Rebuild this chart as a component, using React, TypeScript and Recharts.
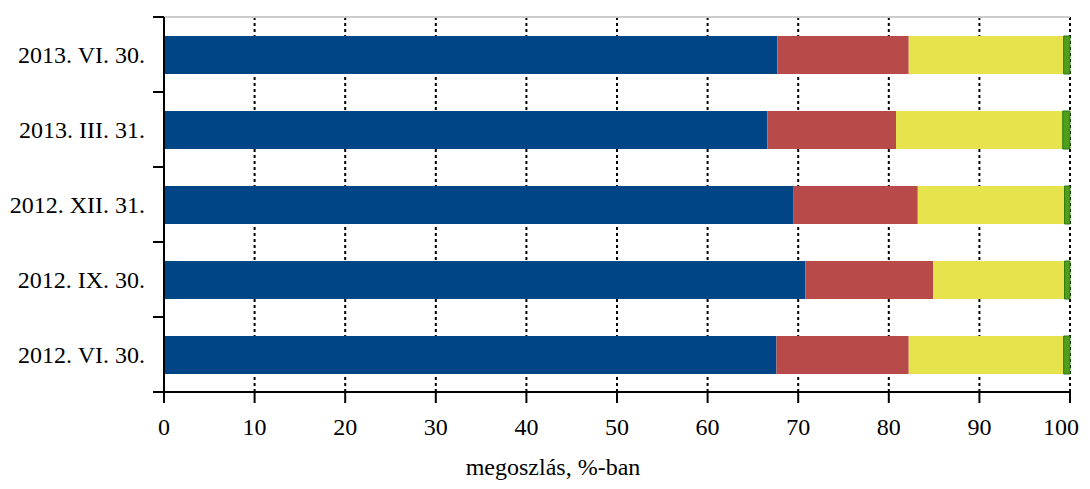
import {
  BarChart,
  Bar,
  XAxis,
  YAxis,
  CartesianGrid,
  ReferenceLine,
} from "recharts";

// időpontok (felülről lefelé)
const dates = [
  "2013. VI. 30.",
  "2013. III. 31.",
  "2012. XII. 31.",
  "2012. IX. 30.",
  "2012. VI. 30.",
];

// megoszlás, %-ban
const blueShare = [67.7, 66.6, 69.5, 70.8, 67.6];
const redShare = [14.5, 14.2, 13.7, 14.1, 14.6];
const yellowShare = [17.1, 18.4, 16.2, 14.5, 17.1];
const greenShare = [0.7, 0.8, 0.6, 0.6, 0.7];

const xTicks = [0, 10, 20, 30, 40, 50, 60, 70, 80, 90, 100];

const data = dates.map((d, i) => ({
  date: d,
  blue: blueShare[i],
  red: redShare[i],
  yellow: yellowShare[i],
  green: greenShare[i],
}));

const font = '"Liberation Serif", "Times New Roman", serif';
const LABEL_GAP = 19;
const EDGE_TICK = 11;

// kategória felirat + osztásjel a sávok határán (Excel-stílus)
function DateTick(props: any) {
  const { x, y, payload, index, visibleTicksCount } = props;
  const half = payload.offset || 0;
  const ax = x + LABEL_GAP;
  const isLast = index === visibleTicksCount - 1;
  return (
    <g>
      <text
        x={x}
        y={y}
        dy="0.355em"
        textAnchor="end"
        fontSize={24}
        fontFamily={font}
        fill="#000"
      >
        {payload.value}
      </text>
      <line x1={ax - EDGE_TICK} x2={ax} y1={y - half} y2={y - half} stroke="#000" strokeWidth={2} />
      {isLast && (
        <line x1={ax - EDGE_TICK} x2={ax} y1={y + half} y2={y + half} stroke="#000" strokeWidth={2} />
      )}
    </g>
  );
}

// az utolsó ("100") feliratot kicsit beljebb toljuk, hogy ne lógjon ki
function PctTick(props: any) {
  const { x, y, payload, index, visibleTicksCount } = props;
  const isLast = index === visibleTicksCount - 1;
  return (
    <text
      x={x}
      y={y}
      dx={isLast ? -9 : 0}
      dy="0.71em"
      textAnchor="middle"
      fontSize={24}
      fontFamily={font}
      fill="#000"
    >
      {payload.value}
    </text>
  );
}

export default function App() {
  return (
    <BarChart
      width={1074}
      height={473}
      data={data}
      layout="vertical"
      margin={{ top: 9, right: 12, bottom: 0, left: 0 }}
      barSize={38}
      style={{ fontFamily: font }}
    >
      <CartesianGrid
        horizontal={false}
        stroke="#000"
        strokeWidth={2}
        strokeDasharray="3 3"
      />
      <XAxis
        type="number"
        domain={[0, 100]}
        ticks={xTicks}
        interval={0}
        height={89}
        axisLine={{ stroke: "#000", strokeWidth: 2 }}
        tickLine={{ stroke: "#000", strokeWidth: 2 }}
        tickSize={11}
        tickMargin={15}
        tick={<PctTick />}
        label={{
          value: "megoszlás, %-ban",
          position: "insideBottom",
          offset: 6,
          dx: -64,
          style: { fontSize: 24, fill: "#000", fontFamily: font },
        }}
      />
      <YAxis
        type="category"
        dataKey="date"
        width={156}
        interval={0}
        axisLine={{ stroke: "#000", strokeWidth: 2 }}
        tickLine={false}
        tickSize={0}
        tickMargin={LABEL_GAP}
        tick={<DateTick />}
      />
      <ReferenceLine
        y={dates[0]}
        position="start"
        stroke="#cccccc"
        strokeWidth={2}
      />
      <Bar dataKey="blue" stackId="s" fill="#004687" isAnimationActive={false} />
      <Bar dataKey="red" stackId="s" fill="#B84A4A" isAnimationActive={false} />
      <Bar dataKey="yellow" stackId="s" fill="#E6E34C" isAnimationActive={false} />
      <Bar
        dataKey="green"
        stackId="s"
        fill="#4E9F1E"
        stroke="#2A7A0A"
        strokeWidth={1}
        isAnimationActive={false}
      />
    </BarChart>
  );
}
